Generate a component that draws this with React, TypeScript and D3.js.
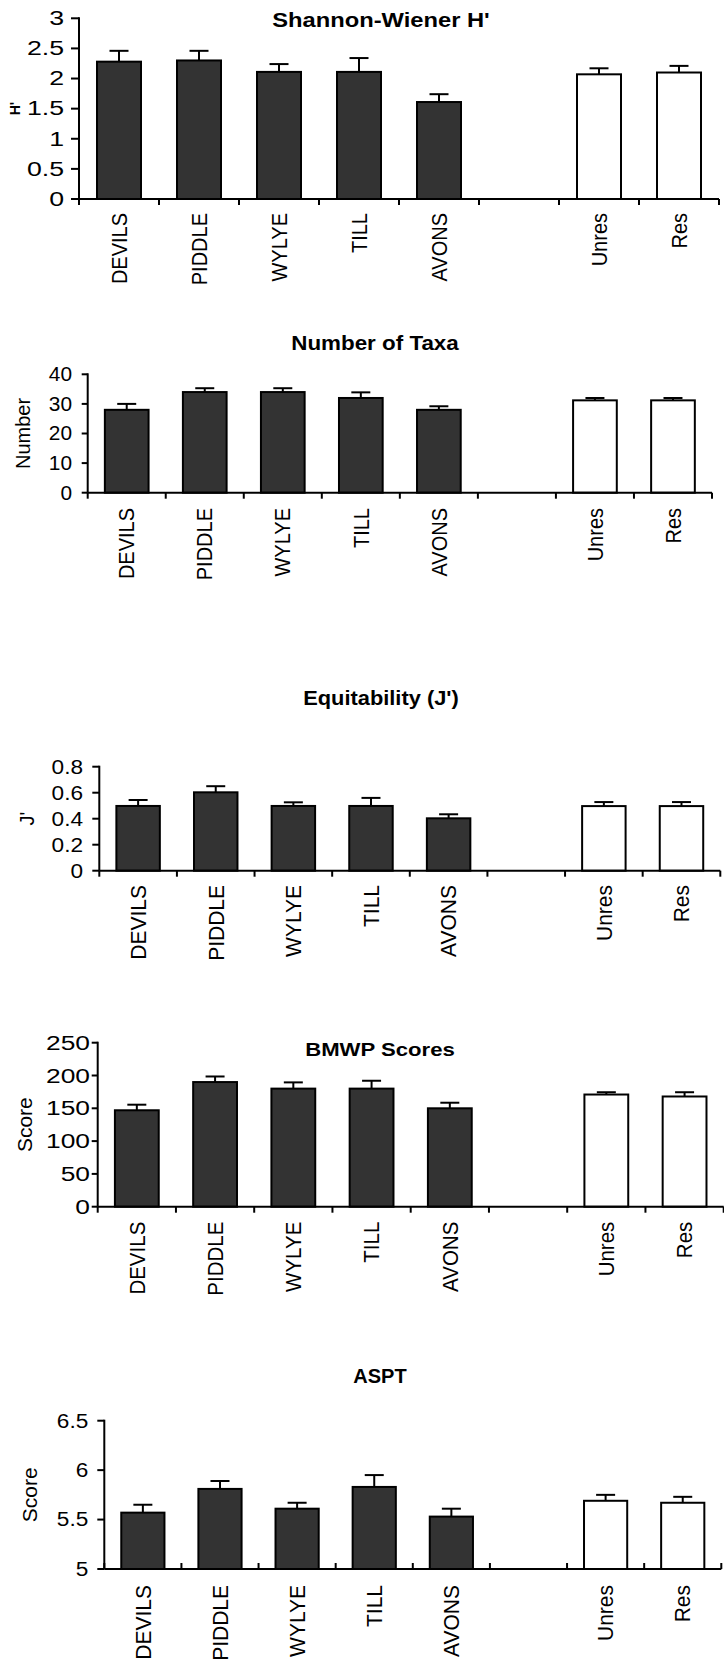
import { useEffect, useRef } from "react";
import * as d3 from "d3";

// sites along the x axis ("" is the empty slot between rivers and pooled groups)
const sites = ["DEVILS", "PIDDLE", "WYLYE", "TILL", "AVONS", "", "Unres", "Res"];
const barSites = ["DEVILS", "PIDDLE", "WYLYE", "TILL", "AVONS", "Unres", "Res"];
const pooled = ["Unres", "Res"];

// Shannon-Wiener H'
const shannonMean = [2.28, 2.3, 2.11, 2.11, 1.61, 2.07, 2.1];
const shannonErr = [0.18, 0.16, 0.13, 0.23, 0.13, 0.1, 0.11];
const shannonTicks = [0, 0.5, 1, 1.5, 2, 2.5, 3];

// Number of taxa
const taxaMean = [28, 34, 34, 32, 28, 31.2, 31.2];
const taxaErr = [2, 1.3, 1.3, 1.9, 1.2, 0.8, 0.8];
const taxaTicks = [0, 10, 20, 30, 40];

// Equitability J'
const equitMean = [0.498, 0.603, 0.498, 0.498, 0.403, 0.497, 0.497];
const equitErr = [0.046, 0.047, 0.028, 0.062, 0.031, 0.031, 0.031];
const equitTicks = [0, 0.2, 0.4, 0.6, 0.8];

// BMWP scores
const bmwpMean = [147, 190, 180, 180, 150, 171, 168];
const bmwpErr = [8.5, 8.5, 9.5, 12, 8.5, 3.5, 6.5];
const bmwpTicks = [0, 50, 100, 150, 200, 250];

// ASPT
const asptMean = [5.57, 5.81, 5.61, 5.83, 5.53, 5.69, 5.67];
const asptErr = [0.08, 0.08, 0.06, 0.12, 0.08, 0.06, 0.06];
const asptTicks = [5, 5.5, 6, 6.5];

const FONT = "'Liberation Sans', Arial, Helvetica, sans-serif";

const panels = [
  {
    title: "Shannon-Wiener H'", titleX: 381, titleY: 26.5, titleFs: 21, titleSx: 1.13,
    yLabel: "H'", yLabelBold: true, yLabelFs: 14, yLabelX: 15,
    left: 79, right: 719, top: 18.3, bottom: 199, domain: [0, 3], ticks: shannonTicks,
    mean: shannonMean, err: shannonErr, pad: 0.45,
    tickFs: 19.5, tickSx: 1.37, tickRight: 64, tickLen: 8,
    catFs: 20, catSx: 1.1, catTop: 213, xTickDir: 1,
  },
  {
    title: "Number of Taxa", titleX: 375, titleY: 350, titleFs: 20, titleSx: 1.12,
    yLabel: "Number", yLabelBold: false, yLabelFs: 20, yLabelX: 23,
    left: 87.7, right: 712, top: 374.3, bottom: 492.7, domain: [0, 40], ticks: taxaTicks,
    mean: taxaMean, err: taxaErr, pad: 0.44,
    tickFs: 19.5, tickSx: 1.07, tickRight: 72, tickLen: 6,
    catFs: 20, catSx: 1.1, catTop: 508, xTickDir: 1,
  },
  {
    title: "Equitability (J')", titleX: 381, titleY: 705, titleFs: 21, titleSx: 1.04,
    yLabel: "J'", yLabelBold: false, yLabelFs: 20, yLabelX: 27,
    left: 99.3, right: 720.3, top: 766.7, bottom: 870.7, domain: [0, 0.8], ticks: equitTicks,
    mean: equitMean, err: equitErr, pad: 0.44,
    tickFs: 19.5, tickSx: 1.16, tickRight: 83, tickLen: 7,
    catFs: 21, catSx: 1.07, catTop: 885, xTickDir: 1,
  },
  {
    title: "BMWP Scores", titleX: 380, titleY: 1056, titleFs: 18.6, titleSx: 1.19,
    yLabel: "Score", yLabelBold: false, yLabelFs: 21, yLabelX: 25,
    left: 97.7, right: 723.7, top: 1042.7, bottom: 1206.7, domain: [0, 250], ticks: bmwpTicks,
    mean: bmwpMean, err: bmwpErr, pad: 0.44,
    tickFs: 20, tickSx: 1.32, tickRight: 90, tickLen: 6,
    catFs: 20.5, catSx: 1.07, catTop: 1221.7, xTickDir: 1,
  },
  {
    title: "ASPT", titleX: 380, titleY: 1382.7, titleFs: 20, titleSx: 1.0,
    yLabel: "Score", yLabelBold: false, yLabelFs: 21, yLabelX: 30,
    left: 104.3, right: 721.3, top: 1420.7, bottom: 1569, domain: [5, 6.5], ticks: asptTicks,
    mean: asptMean, err: asptErr, pad: 0.44,
    tickFs: 19.5, tickSx: 1.16, tickRight: 88.3, tickLen: 7,
    catFs: 21, catSx: 1.05, catTop: 1585, xTickDir: -1,
  },
];

type Panel = (typeof panels)[number];

function drawPanel(svg: d3.Selection<SVGSVGElement, unknown, null, undefined>, p: Panel) {
  const g = svg.append("g").attr("font-family", FONT);

  const x = d3.scaleBand<string>()
    .domain(sites)
    .range([p.left, p.right])
    .paddingInner(p.pad)
    .paddingOuter(p.pad / 2);

  const y = d3.scaleLinear().domain(p.domain).range([p.bottom, p.top]);

  const rows = barSites.map((s, i) => ({ site: s, mean: p.mean[i], err: p.err[i] }));

  // bars
  g.append("g")
    .selectAll("rect")
    .data(rows)
    .enter().append("rect")
    .attr("x", d => x(d.site)!)
    .attr("y", d => y(d.mean))
    .attr("width", x.bandwidth())
    .attr("height", d => y(p.domain[0]) - y(d.mean))
    .attr("fill", d => pooled.includes(d.site) ? "#ffffff" : "#333333")
    .attr("stroke", "#000")
    .attr("stroke-width", 2);

  // error bars (upper half only)
  const eb = g.append("g").attr("stroke", "#000").attr("stroke-width", 2);
  rows.forEach(d => {
    const cx = x(d.site)! + x.bandwidth() / 2;
    eb.append("line")
      .attr("x1", cx).attr("x2", cx)
      .attr("y1", y(d.mean)).attr("y2", y(d.mean + d.err));
    eb.append("line")
      .attr("x1", cx - 9.5).attr("x2", cx + 9.5)
      .attr("y1", y(d.mean + d.err)).attr("y2", y(d.mean + d.err));
  });

  // y axis
  const ax = g.append("g").attr("stroke", "#000").attr("stroke-width", 2);
  ax.append("line")
    .attr("x1", p.left).attr("x2", p.left)
    .attr("y1", y(p.domain[1]) - 1).attr("y2", p.bottom);
  p.ticks.forEach(t => {
    ax.append("line")
      .attr("x1", p.left - p.tickLen).attr("x2", p.left)
      .attr("y1", y(t)).attr("y2", y(t));
  });

  g.append("g")
    .selectAll("text")
    .data(p.ticks)
    .enter().append("text")
    .attr("transform", t => `translate(${p.tickRight},${y(t)}) scale(${p.tickSx},1)`)
    .attr("text-anchor", "end")
    .attr("dy", "0.35em")
    .attr("font-size", p.tickFs)
    .attr("fill", "#000")
    .text(t => String(t));

  // x axis with ticks at category boundaries
  ax.append("line")
    .attr("x1", p.left).attr("x2", p.right)
    .attr("y1", p.bottom).attr("y2", p.bottom);
  d3.range(sites.length + 1).forEach(i => {
    const bx = p.left + i * x.step();
    ax.append("line")
      .attr("x1", bx).attr("x2", bx)
      .attr("y1", p.bottom).attr("y2", p.bottom + p.xTickDir * 6);
  });

  // category labels, rotated
  g.append("g")
    .selectAll("text")
    .data(sites.filter(s => s !== ""))
    .enter().append("text")
    .attr("transform", s => `translate(${x(s)! + x.bandwidth() / 2},${p.catTop}) scale(${p.catSx},1) rotate(-90)`)
    .attr("text-anchor", "end")
    .attr("dy", "0.35em")
    .attr("font-size", p.catFs)
    .attr("fill", "#000")
    .text(s => s);

  // title
  g.append("text")
    .attr("transform", `translate(${p.titleX},${p.titleY}) scale(${p.titleSx},1)`)
    .attr("text-anchor", "middle")
    .attr("font-size", p.titleFs)
    .attr("font-weight", "bold")
    .attr("fill", "#000")
    .text(p.title);

  // y axis label
  g.append("text")
    .attr("transform", `translate(${p.yLabelX},${(p.top + p.bottom) / 2}) rotate(-90)`)
    .attr("text-anchor", "middle")
    .attr("dy", "0.35em")
    .attr("font-size", p.yLabelFs)
    .attr("font-weight", p.yLabelBold ? "bold" : "normal")
    .attr("fill", "#000")
    .text(p.yLabel);
}

export default function App() {
  const ref = useRef<SVGSVGElement>(null);

  useEffect(() => {
    const svg = d3.select(ref.current!);
    svg.selectAll("*").remove();
    panels.forEach(p => drawPanel(svg, p));
    return () => {
      svg.selectAll("*").remove();
    };
  }, []);

  return (
    <svg
      ref={ref}
      width={724}
      height={1663}
      style={{ position: "absolute", left: 0, top: 0, background: "#fff" }}
    />
  );
}
